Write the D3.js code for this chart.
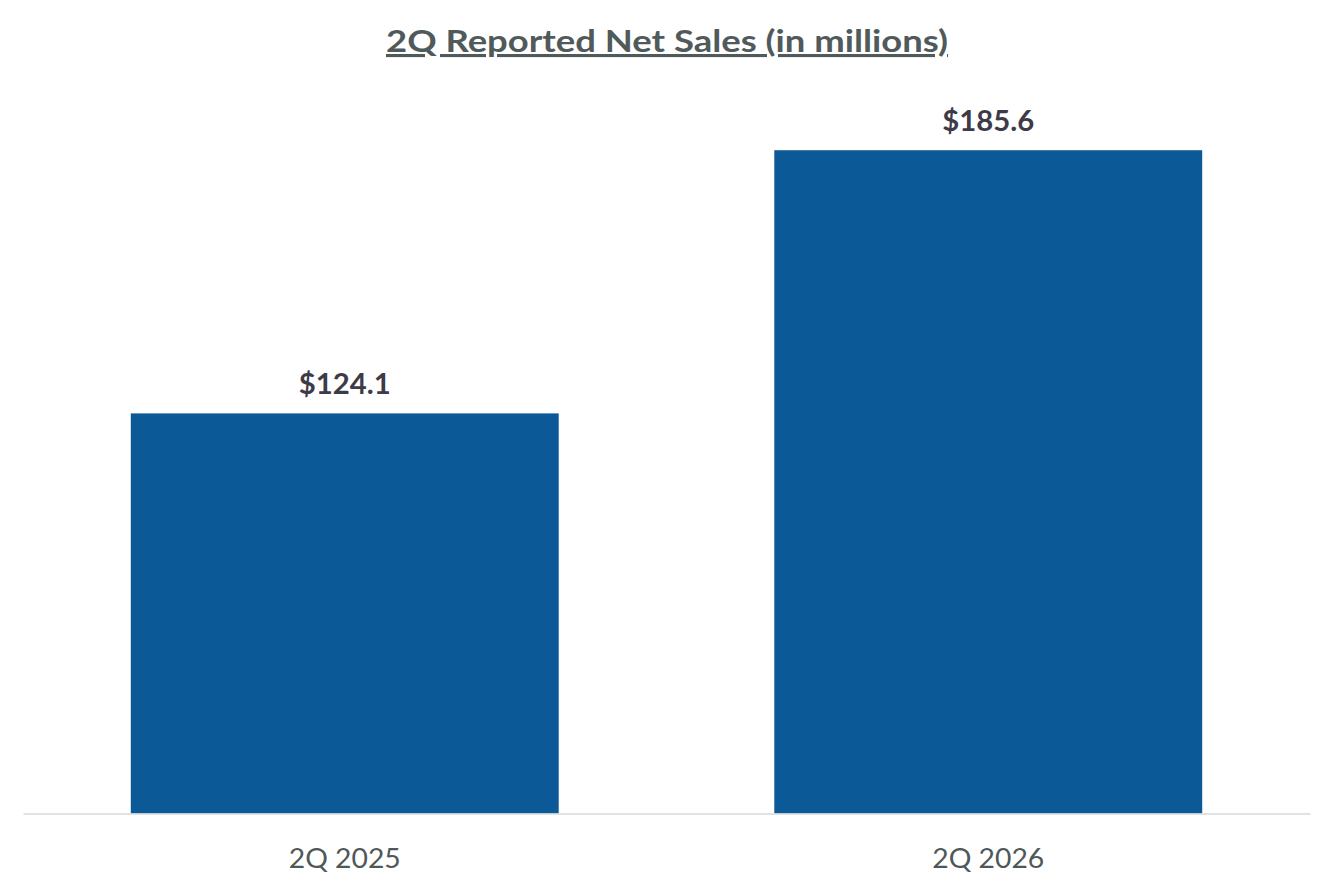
<!DOCTYPE html>
<html>
<head>
<meta charset="utf-8">
<script src="https://cdn.jsdelivr.net/npm/d3@7"></script>
<style>
  body { margin: 0; background: #fff; }
  svg { display: block; font-family: Lato, "Open Sans", sans-serif; }
</style>
</head>
<body>
<svg width="1334" height="889"></svg>
<script>
// chart data
const categories = ["2Q 2025", "2Q 2026"];
const netSales = [124.1, 185.6];
const valueLabels = ["$124.1", "$185.6"];
const chartTitle = "2Q Reported Net Sales (in millions)";

const svg = d3.select("svg");
const width = +svg.attr("width");

const baseY = 813.5;

// x scale for the two quarters
const x = d3.scaleBand()
    .domain(categories)
    .range([23, 1310])
    .paddingInner(0.335)
    .paddingOuter(0.1675);

// the value axis does not start at zero in the original
const y = d3.scaleLinear()
    .domain([30.6, 200])
    .range([baseY, 88.6]);

// title (stretched a bit, the original font is wider than Lato)
svg.append("text")
    .attr("x", width / 2)
    .attr("y", 52)
    .attr("text-anchor", "middle")
    .attr("font-size", 31)
    .attr("font-weight", "bold")
    .attr("fill", "#505a5a")
    .attr("text-decoration", "underline")
    .attr("textLength", 562)
    .attr("lengthAdjust", "spacingAndGlyphs")
    .text(chartTitle);

// bars
svg.selectAll("rect.bar")
    .data(netSales)
    .enter().append("rect")
    .attr("class", "bar")
    .attr("x", (d, i) => x(categories[i]))
    .attr("y", d => y(d))
    .attr("width", x.bandwidth())
    .attr("height", d => baseY - y(d))
    .attr("fill", "#0c5997");

// value labels
svg.selectAll("text.value")
    .data(netSales)
    .enter().append("text")
    .attr("class", "value")
    .attr("x", (d, i) => x(categories[i]) + x.bandwidth() / 2)
    .attr("y", d => y(d) - 19)
    .attr("text-anchor", "middle")
    .attr("font-size", 28)
    .attr("font-weight", "bold")
    .attr("fill", "#3e3b48")
    .attr("textLength", 92)
    .attr("lengthAdjust", "spacingAndGlyphs")
    .text((d, i) => valueLabels[i]);

// x axis
const xAxis = svg.append("g")
    .attr("transform", `translate(0, ${baseY})`)
    .call(d3.axisBottom(x).tickSize(0).tickPadding(0));
xAxis.select(".domain")
    .attr("stroke", "#d9d9d9")
    .attr("stroke-width", 1.5);
xAxis.selectAll(".tick text")
    .attr("dy", 0)
    .attr("y", 54)
    .attr("font-size", 27)
    .attr("font-family", "Lato, 'Open Sans', sans-serif")
    .attr("fill", "#4f5858")
    .attr("textLength", 112)
    .attr("lengthAdjust", "spacingAndGlyphs");
</script>
</body>
</html>
